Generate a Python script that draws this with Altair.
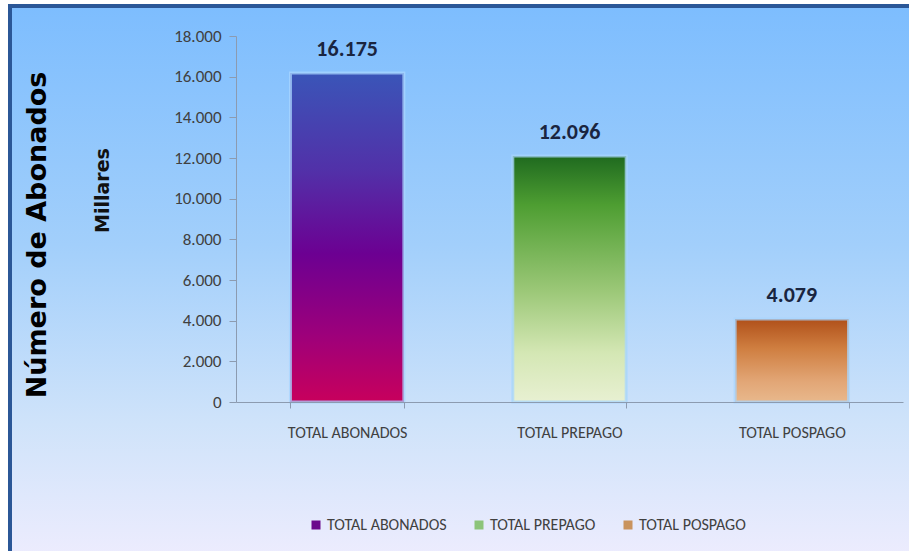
import altair as alt
import pandas as pd

# ---- data ----
categories = ["TOTAL ABONADOS", "TOTAL PREPAGO", "TOTAL POSPAGO"]
values = [16175, 12096, 4079]
value_labels = ["16.175", "12.096", "4.079"]
y_ticks = [0, 2000, 4000, 6000, 8000, 10000, 12000, 14000, 16000, 18000]
legend_colors = ["#6B0A8C", "#8CC47A", "#C9935E"]
bar_gradients = {
    "TOTAL ABONADOS": [("#3A55B8", 0.0), ("#5230A8", 0.3), ("#6C0092", 0.55), ("#9E007A", 0.8), ("#C8005C", 1.0)],
    "TOTAL PREPAGO": [("#1F6A1F", 0.0), ("#4E9E32", 0.2), ("#9CC878", 0.55), ("#D4E7B4", 0.8), ("#E8F0D2", 1.0)],
    "TOTAL POSPAGO": [("#B0501A", 0.0), ("#CF7E40", 0.35), ("#E2A676", 0.75), ("#E8B88C", 1.0)],
}
bg_stops = [("#7DBDFE", 0.0), ("#A2CFFB", 0.4), ("#CFE3FA", 0.7), ("#F7EFFF", 1.0)]

FONT = "Liberation Sans Narrow, Carlito, DejaVu Sans Condensed, sans-serif"

df = pd.DataFrame({"categoria": categories, "valor": values, "etiqueta": value_labels})

W, H = 667, 366


def grad(stops):
    return alt.Gradient(
        gradient="linear",
        stops=[alt.GradientStop(color=c, offset=o) for c, o in stops],
        x1=0, x2=0, y1=0, y2=1,
    )


x_enc = alt.X(
    "categoria:N",
    sort=categories,
    scale=alt.Scale(paddingInner=0.49, paddingOuter=0.245),
    axis=alt.Axis(
        title=None, labelAngle=0, tickBand="extent", tickSize=6, labelPadding=16,
        labelFont=FONT, labelFontSize=16, labelColor="#404040",
        domainColor="#8C9BB0", tickColor="#8C9BB0", zindex=1,
    ),
)
y_enc = alt.Y(
    "valor:Q",
    scale=alt.Scale(domain=[0, 18000], nice=False),
    axis=alt.Axis(
        values=y_ticks,
        labelExpr="replace(format(datum.value, ',.0f'), ',', '.')",
        labelFont=FONT, labelFontSize=17, labelColor="#404040",
        tickSize=7, labelPadding=8, grid=False,
        domainColor="#8C9BB0", tickColor="#8C9BB0", zindex=1,
        title="Millares", titleAngle=270, titleX=-134, titleY=154,
        titleAlign="center", titleBaseline="middle",
        titleFont="DejaVu Sans", titleFontSize=19, titleFontWeight="bold", titleColor="#111111",
    ),
)

bg = alt.Chart(pd.DataFrame({"k": [0]})).mark_rect(
    fill=grad(bg_stops), stroke="#2B5797", strokeWidth=4
).encode(
    x=alt.value(-226), x2=alt.value(W + 60), y=alt.value(-30), y2=alt.value(H + 200)
)

base = alt.Chart(df).mark_bar().encode(
    x=x_enc,
    y=y_enc,
    color=alt.Color(
        "categoria:N",
        sort=categories,
        scale=alt.Scale(domain=categories, range=legend_colors),
        legend=alt.Legend(
            title=None, orient="none", legendX=72, legendY=481, direction="horizontal",
            symbolType="square", symbolSize=81, symbolStrokeWidth=0,
            labelFont=FONT, labelFontSize=16, labelColor="#404040",
            columnPadding=24, labelOffset=3, zindex=1,
        ),
    ),
)

grad_layers = []
for cat in categories:
    grad_layers.append(
        alt.Chart(df)
        .transform_filter(alt.datum.categoria == cat)
        .mark_bar(fill=grad(bar_gradients[cat]), stroke="#A8D6FF", strokeWidth=3, strokeOpacity=0.75)
        .encode(x=x_enc, y=y_enc)
    )

labels = alt.Chart(df).mark_text(
    dy=-17, fontSize=22, fontWeight="bold", color="#1A2540", font=FONT, baseline="alphabetic"
).encode(x=x_enc, y=y_enc, text="etiqueta:N")

side_title = alt.Chart(pd.DataFrame({"t": ["Número de Abonados"]})).mark_text(
    angle=270, fontSize=27, fontWeight="bold", font="DejaVu Sans", color="#000000",
    align="center", baseline="middle"
).encode(x=alt.value(-198), y=alt.value(199), text="t:N")

chart = (
    alt.layer(bg, base, *grad_layers, labels, side_title)
    .properties(
        width=W, height=H,
        padding={"left": 236, "top": 36, "right": 6, "bottom": 149},
        autosize=alt.AutoSizeParams(type="none"),
        background="white",
    )
    .configure_view(stroke=None)
)

chart.save("out.html", embed_options={"renderer": "svg", "actions": False})
